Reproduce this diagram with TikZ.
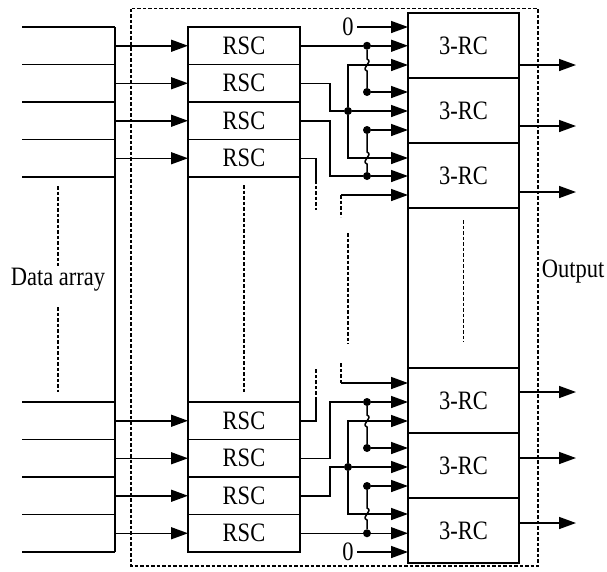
\documentclass[tikz,border=0pt]{standalone}
\usepackage{fontspec}
\setmainfont{Liberation Serif}
\usetikzlibrary{arrows.meta,positioning,calc}
\newcommand{\tall}[1]{\scalebox{1}[1.18]{#1}}
\tikzset{
  rsc/.style={draw,line width=1.5pt,minimum width=112pt,minimum height=37.5pt,inner sep=0pt,outer sep=0pt},
  rc/.style={draw,line width=1.5pt,minimum width=111pt,minimum height=65pt,inner sep=0pt,outer sep=0pt},
  wire/.style={line width=1.5pt},
  arr/.style={-{Triangle[length=17pt,width=12pt]},line width=1.5pt},
  gapline/.style={line width=1.5pt,dash pattern=on 3.5pt off 2pt},
  jdot/.style={circle,fill,inner sep=0pt,minimum size=8pt},
}
\begin{document}
\begin{tikzpicture}[x=1pt,y=-1pt,font=\fontsize{22.5}{26}\selectfont]
    \useasboundingbox (0,0) rectangle (607,571);

    \node[rsc] (r1) at (244,45.75) {\tall{RSC}};
    \node[rsc,below=0pt of r1] (r2) {\tall{RSC}};
    \node[rsc,below=0pt of r2] (r3) {\tall{RSC}};
    \node[rsc,below=0pt of r3] (r4) {\tall{RSC}};
    \node[rsc] (r5) at (244,420.75) {\tall{RSC}};
    \node[rsc,below=0pt of r5] (r6) {\tall{RSC}};
    \node[rsc,below=0pt of r6] (r7) {\tall{RSC}};
    \node[rsc,below=0pt of r7] (r8) {\tall{RSC}};
    \draw[wire] (r1.north west) rectangle (r8.south east);
    \draw[gapline] (244,185) -- (244,393);

    \node[rc] (c1) at (463.5,45.5) {\tall{3-RC}};
    \node[rc,below=0pt of c1] (c2) {\tall{3-RC}};
    \node[rc,below=0pt of c2] (c3) {\tall{3-RC}};
    \node[rc] (c4) at (463.5,400.5) {\tall{3-RC}};
    \node[rc,below=0pt of c4] (c5) {\tall{3-RC}};
    \node[rc,below=0pt of c5] (c6) {\tall{3-RC}};
    \draw[wire] (c1.north west) rectangle (c6.south east);
    \draw[gapline] (463.5,220) -- (463.5,342);

    \draw[gapline] (131,8.5) rectangle (538,566);

    \foreach \y in {27,64.5,102,139.5,177,402,439.5,477,514.5,552}
      \draw[wire] (22,\y) -- (115,\y);
    \coordinate (bus) at (115,0);
    \draw[wire] (115,27) -- (115,552);
    \foreach \n in {1,...,8}
      \draw[arr] (bus |- r\n.west) -- (r\n.west);
    \draw[gapline] (58,186) -- (58,266);
    \draw[gapline] (58,307) -- (58,392);
    \node (data) at (58,280) {\tall{Data array}};
    \node (out) at (573,272) {\tall{Output}};

    \node (z1) at (348,27) {\tall{0}};
    \draw[arr] (z1.east) -- (c1.west |- z1);
    \node[jdot] (j1) at (367,45.75) {};
    \node[jdot] (j2) at (367,92) {};
    \node[jdot] (j3) at (348,111) {};
    \node[jdot] (j4) at (367,176) {};
    \node[jdot] (j5) at (367,130) {};
    \draw[wire] (r1.east) -- (j1);
    \draw[arr] (j1) -- (c1.west |- j1);
    \draw[wire] (j1) -- (367,59) .. controls (374,62) and (360,68) .. (367,71) -- (j2);
    \draw[arr] (j2) -- (c2.west |- j2);
    \draw[wire] (r2.east) -- ++(30,0) |- (j3);
    \draw[arr] (j3) -- (c2.west |- j3);
    \draw[arr] (j3) |- (c1.west |- 0,65);
    \draw[arr] (j3) |- (c3.west |- 0,158);
    \draw[wire] (r3.east) -- ++(30,0) |- (j4);
    \draw[arr] (j4) -- (c3.west |- j4);
    \draw[wire] (j4) -- (367,164) .. controls (360,161) and (374,155) .. (367,152) -- (j5);
    \draw[arr] (j5) -- (c2.west |- j5);
    \coordinate (t4) at (316,180);
    \draw[wire] (r4.east) -| (t4);
    \draw[gapline] (t4) -- ++(0,30);
    \coordinate (t5) at (341,195);
    \draw[arr] (t5) -- (c3.west |- t5);
    \draw[gapline] (t5) -- ++(0,22);
    \draw[gapline] (348,233) -- (348,344);

    \coordinate (b5) at (341,383);
    \draw[arr] (b5) -- (c4.west |- b5);
    \draw[gapline] (b5) -- ++(0,-21);
    \coordinate (b4) at (316,400);
    \draw[wire] (r5.east) -| (b4);
    \draw[gapline] (b4) -- ++(0,-32);
    \node[jdot] (k1) at (367,402) {};
    \node[jdot] (k2) at (367,448) {};
    \node[jdot] (k3) at (348,467) {};
    \node[jdot] (k4) at (367,533.25) {};
    \node[jdot] (k5) at (367,486) {};
    \draw[wire] (r6.east) -- ++(30,0) |- (k1);
    \draw[arr] (k1) -- (c4.west |- k1);
    \draw[wire] (k1) -- (367,415) .. controls (374,418) and (360,424) .. (367,427) -- (k2);
    \draw[arr] (k2) -- (c5.west |- k2);
    \draw[wire] (r7.east) -- ++(30,0) |- (k3);
    \draw[arr] (k3) -- (c5.west |- k3);
    \draw[arr] (k3) |- (c4.west |- 0,421);
    \draw[arr] (k3) |- (c6.west |- 0,514);
    \draw[wire] (r8.east) -- (k4);
    \draw[arr] (k4) -- (c6.west |- k4);
    \draw[wire] (k4) -- (367,520) .. controls (360,517) and (374,511) .. (367,508) -- (k5);
    \draw[arr] (k5) -- (c5.west |- k5);
    \node (z2) at (348,552) {\tall{0}};
    \draw[arr] (z2.east) -- (c6.west |- z2);

    \foreach \n/\y in {1/65,2/126,3/192,4/392,5/458,6/523}
      \draw[arr] (c\n.east |- 0,\y) -- ++(57,0);
  \end{tikzpicture}
\end{document}
